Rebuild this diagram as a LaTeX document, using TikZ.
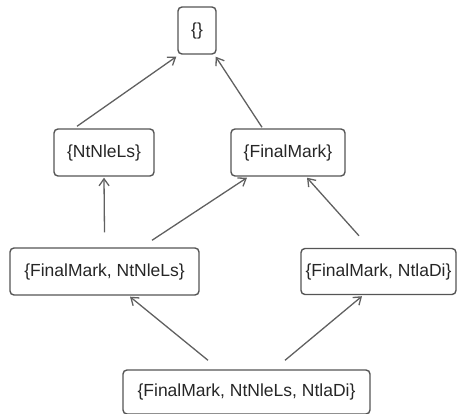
\documentclass[tikz,border=0pt]{standalone}
\usepackage{fontspec}
\setmainfont{Liberation Sans}
\usetikzlibrary{arrows.meta}
\definecolor{boxc}{HTML}{555555}
\definecolor{arrc}{HTML}{606060}
\begin{document}
\begin{tikzpicture}[x=1pt,y=-1pt,
  setbox/.style={draw=boxc, line width=1.4pt, rounded corners=4pt, inner sep=0pt,
    font=\fontsize{17.5}{20}\selectfont, text=black!85},
  arr/.style={draw=arrc, line width=1.3pt, -{Straight Barb[length=7pt,width=10pt]}}]
\useasboundingbox (0,0) rectangle (464,414);
\node[setbox, minimum width=38pt, minimum height=47pt] (top) at (197,30.5) {\{\}};
\node[setbox, minimum width=100pt, minimum height=47pt] (ntn) at (104,152.5) {\{NtNleLs\}};
\node[setbox, minimum width=114pt, minimum height=47pt] (fm) at (288,152.5) {\{FinalMark\}};
\node[setbox, minimum width=189pt, minimum height=47pt] (fn) at (104.5,271.5) {\{FinalMark, NtNleLs\}};
\node[setbox, minimum width=155pt, minimum height=46pt] (fni) at (378.5,271.5) {\{FinalMark, NtlaDi\}};
\node[setbox, minimum width=247pt, minimum height=44pt] (all) at (246.5,392) {\{FinalMark, NtNleLs, NtlaDi\}};
\draw[arr] ([xshift=-27pt,yshift=2pt]ntn.north) -- ([xshift=-1pt,yshift=-2pt]top.south west);
\draw[arr] ([xshift=-26pt,yshift=1pt]fm.north) -- ([xshift=-1pt,yshift=-2pt]top.south east);
\draw[arr] ([yshift=15pt]fn.north) -- ([yshift=-1pt]ntn.south);
\draw[arr] ([xshift=47.5pt,yshift=7pt]fn.north) -- ([xshift=-41pt,yshift=-1pt]fm.south);
\draw[arr] ([xshift=-19.5pt,yshift=12pt]fni.north) -- ([xshift=19pt,yshift=-1pt]fm.south);
\draw[arr] ([xshift=-38.5pt,yshift=9pt]all.north) -- ([xshift=25.5pt,yshift=-1pt]fn.south);
\draw[arr] ([xshift=38.5pt,yshift=9pt]all.north) -- ([xshift=-16.5pt,yshift=-1pt]fni.south);
\end{tikzpicture}
\end{document}
